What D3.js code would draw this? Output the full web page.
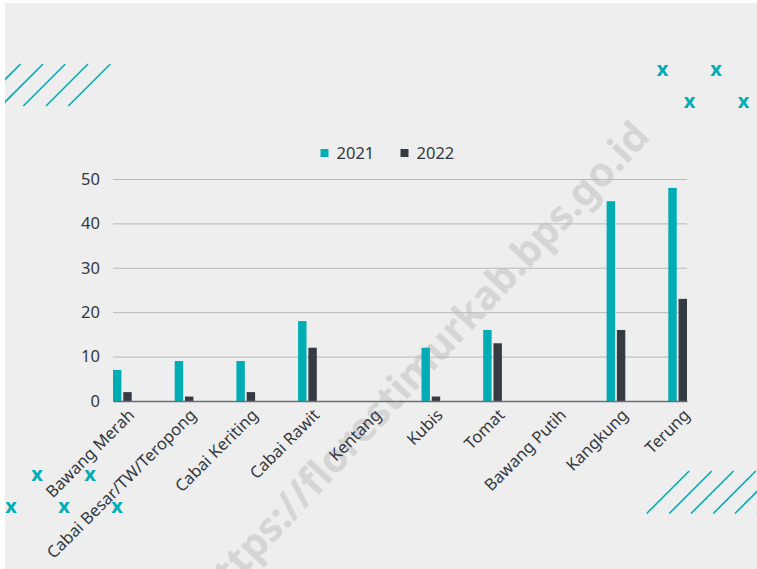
<!DOCTYPE html>
<html><head><meta charset="utf-8">
<script src="https://cdn.jsdelivr.net/npm/d3@7"></script>
<style>html,body{margin:0;padding:0;background:#fff;}svg{display:block;}</style>
</head><body>
<svg id="c" width="757" height="569"></svg>
<script>
const categories = ["Bawang Merah","Cabai Besar/TW/Teropong","Cabai Keriting","Cabai Rawit","Kentang","Kubis","Tomat","Bawang Putih","Kangkung","Terung"];
const seriesNames = ["2021","2022"];
const values2021 = [7,9,9,18,0,12,16,0,45,48];
const values2022 = [2,1,2,12,0,1,13,0,16,23];
const yTicks = [0,10,20,30,40,50];
const colors = ["#00adb5","#363a43"];
const watermark = "https://florestimurkab.bps.go.id";

const svg = d3.select("#c");
const font = "'Noto Sans', 'Open Sans', sans-serif";
svg.append("rect").attr("x",5).attr("y",3).attr("width",752).attr("height",566).attr("fill","#eeeeee");

svg.append("clipPath").attr("id","bg").append("rect").attr("x",5).attr("y",3).attr("width",752).attr("height",566);
const deco = svg.append("g").attr("clip-path","url(#bg)");
const hatchTL = [-21.5, 1, 23.3, 46, 68.3];
hatchTL.forEach(x0 => deco.append("line").attr("x1",x0).attr("y1",106).attr("x2",x0+42).attr("y2",64)
  .attr("stroke","#00adb5").attr("stroke-width",1.6));
const hatchBR = [646.7, 669.3, 691, 713.3, 735, 757];
hatchBR.forEach(x0 => deco.append("line").attr("x1",x0).attr("y1",513.5).attr("x2",x0+42.5).attr("y2",471)
  .attr("stroke","#00adb5").attr("stroke-width",1.6));

// watermark
deco.append("text").attr("transform","translate(421,362) rotate(-47)")
  .attr("text-anchor","middle").attr("dominant-baseline","central")
  .attr("font-family",font).attr("font-weight","bold").attr("font-size",40)
  .attr("fill","#d5d5d5").text(watermark);

const m = {left:113, right:687, top:179, bottom:401};
const x0 = d3.scaleBand().domain(categories).range([m.left,m.right]).paddingInner(0.697).paddingOuter(0);
const x1 = d3.scaleBand().domain(seriesNames).range([0,x0.bandwidth()]).paddingInner(0.18);
const y = d3.scaleLinear().domain([0,50]).range([m.bottom,m.top]);

const yAxis = d3.axisLeft(y).tickValues(yTicks).tickSize(-(m.right-m.left)).tickPadding(13);
const gy = svg.append("g").attr("transform",`translate(${m.left},0)`).call(yAxis);
gy.select(".domain").remove();
gy.selectAll(".tick line").attr("stroke","#b8b8b8").attr("stroke-width",1);
gy.selectAll(".tick text").attr("font-family",font).attr("font-size",16.5).attr("fill","#333840");

const data = categories.map((c,i)=>({c, v:[values2021[i], values2022[i]]}));
const g = svg.append("g");
data.forEach(d => {
  seriesNames.forEach((s,j) => {
    const v = d.v[j];
    if (v <= 0) return;
    g.append("rect").attr("x", x0(d.c)+x1(s)).attr("y", y(v))
      .attr("width", x1.bandwidth()).attr("height", y(0)-y(v))
      .attr("fill", colors[j]);
  });
});

const xAxis = d3.axisBottom(x0).tickSize(0).tickPadding(0);
const gx = svg.append("g").attr("transform",`translate(0,${m.bottom})`).call(xAxis);
gx.select(".domain").attr("stroke","#6a6d72").attr("stroke-width",1.5);
gx.selectAll(".tick text")
  .attr("font-family",font).attr("font-size",16.5).attr("fill","#333840")
  .attr("text-anchor","end")
  .attr("transform","translate(9,11) rotate(-45)")
  .attr("dy","0.35em");

const leg = svg.append("g");
const legX = [320.5, 400.5];
seriesNames.forEach((s,j) => {
  leg.append("rect").attr("x",legX[j]).attr("y",149).attr("width",8).attr("height",8).attr("fill",colors[j]);
  leg.append("text").attr("x",legX[j]+16).attr("y",153).attr("dy","0.35em")
    .attr("font-family",font).attr("font-size",16.5).attr("fill","#333840").text(s);
});

const marks = [[662.5,69],[716,69],[689.5,101],[743.5,101],[37,474],[90,474],[11,506.5],[64,506.5],[117,506.5]];
const mg = svg.append("g").attr("clip-path","url(#bg)");
marks.forEach(p => mg.append("text").attr("x",p[0]).attr("y",p[1]).attr("dy","0.33em")
  .attr("text-anchor","middle").attr("font-family",font).attr("font-weight","bold")
  .attr("font-size",20).attr("fill","#00adb5").text("x"));
</script>
</body></html>
